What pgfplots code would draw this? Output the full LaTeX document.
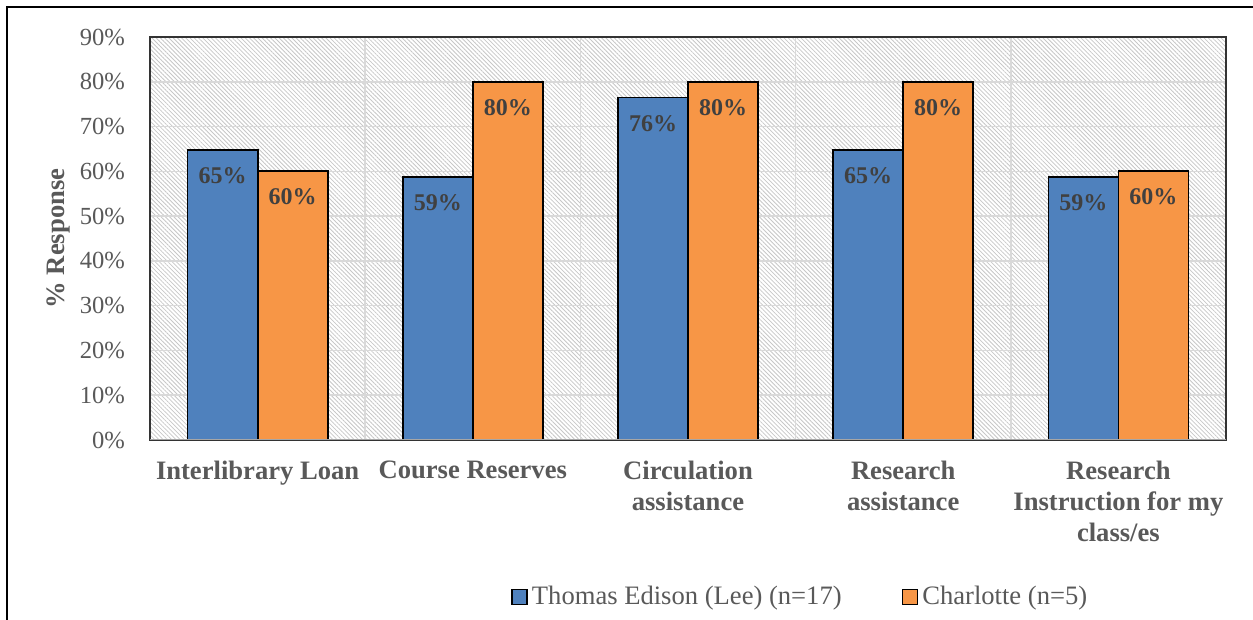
\documentclass[border=0pt]{standalone}
\usepackage{fontspec}
\setmainfont{Liberation Serif}
\usepackage{pgfplots}
\pgfplotsset{compat=1.18}
\usetikzlibrary{patterns.meta}

\definecolor{tedBlue}{HTML}{4F81BD}
\definecolor{cltOrange}{HTML}{F79646}
\definecolor{labGray}{HTML}{595959}
\definecolor{valGray}{HTML}{404040}
\definecolor{gridGray}{HTML}{D9D9D9}

\begin{document}
\begin{tikzpicture}[x=1pt,y=1pt]
\useasboundingbox (0,0) rectangle (626.5,310);
\draw[line width=1.1pt] (3.5,0) -- (3.5,306.5) -- (626.5,306.5);
\begin{axis}[
    at={(75pt,90pt)}, anchor=south west,
    scale only axis, width=538pt, height=201.5pt,
    /pgf/number format/assume math mode=true,
    ybar=0pt, bar width=35pt,
    xmin=-0.5, xmax=4.5, ymin=0, ymax=90,
    xtick={0,...,4},
    xticklabels={Interlibrary Loan, Course Reserves, {Circulation\\assistance}, {Research\\assistance}, {Research\\Instruction for my\\class/es}},
    minor xtick={0.5,1.5,2.5,3.5},
    ytick={0,10,...,90},
    yticklabel={\pgfmathprintnumber{\tick}\%},
    major tick length=0pt, minor tick length=0pt,
    ymajorgrids=true, xminorgrids=true,
    grid style={gridGray, line width=0.8pt},
    minor grid style={gridGray, line width=0.8pt},
    axis line style={draw=black!80, line width=0.6pt},
    axis background/.style={pattern={Lines[angle=-45,distance=1.5pt,line width=0.4pt]}, pattern color=black!22},
    xticklabel style={align=center, font=\bfseries\fontsize{13.3}{15.5}\selectfont, text=labGray, yshift=-7pt},
    yticklabel style={font=\fontsize{12.3}{14}\selectfont, text=labGray, xshift=-9pt},
    ylabel={\% Response},
    ylabel style={font=\bfseries\fontsize{13.3}{15}\selectfont, text=labGray, at={(axis description cs:-0.0855,0.5)}, anchor=center},
    nodes near coords={\pgfmathprintnumber[fixed,precision=0]{\pgfplotspointmeta}\%},
    every node near coord/.append style={font=\bfseries\fontsize{12}{14}\selectfont, text=valGray, anchor=north, yshift=-5pt},
    legend columns=2,
    legend style={at={(0.3299,-0.3896)}, anchor=west, draw=none, fill=none,
        font=\fontsize{13.3}{15}\selectfont, text=labGray,
        /tikz/every even column/.append style={column sep=28pt}},
    legend cell align=left,
    legend image code/.code={\draw[#1, line width=0.8pt] (0pt,-3.75pt) rectangle (7.5pt,3.75pt);},
]
\addplot[fill=tedBlue, draw=black, line width=0.9pt]
    coordinates {(0,64.71) (1,58.82) (2,76.47) (3,64.71) (4,58.82)};
\addlegendentry{Thomas Edison (Lee) (n=17)}
\addplot[fill=cltOrange, draw=black, line width=0.9pt]
    coordinates {(0,60) (1,80) (2,80) (3,80) (4,60)};
\addlegendentry{Charlotte (n=5)}
\draw[draw=black!35, line width=0.8pt] (rel axis cs:0,0) -- (rel axis cs:1,0);
\end{axis}
\end{tikzpicture}
\end{document}
